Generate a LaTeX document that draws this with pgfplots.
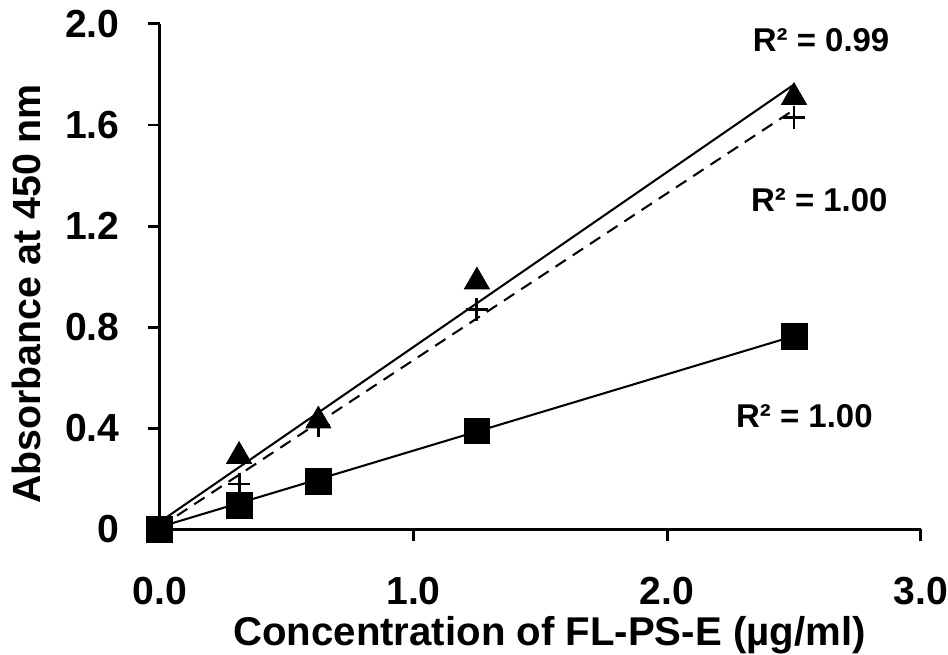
\documentclass[border=0pt]{standalone}
\usepackage{fontspec}
\setmainfont{Liberation Sans}
\usepackage{pgfplots}
\pgfplotsset{compat=1.18}
\usetikzlibrary{calc}

% one table for each series
\pgfplotstableread{
x      y
0      0.00
0.3125 0.29
0.625  0.43
1.25   0.98
2.5    1.71
}\triangles
\pgfplotstableread{
x      y
0      0.00
0.3125 0.18
0.625  0.41
1.25   0.87
2.5    1.63
}\pluses
\pgfplotstableread{
x      y
0      0.00
0.3125 0.095
0.625  0.19
1.25   0.39
2.5    0.765
}\squares

\begin{document}
\begin{tikzpicture}
\begin{axis}[
    scale only axis,
    width=369.5pt, height=245.5pt,
    xmin=0, xmax=3, ymin=0, ymax=2,
    axis x line*=bottom, axis y line*=left,
    axis line style={line width=1.4pt},
    xtick={0,1,2,3}, xticklabels={0.0,1.0,2.0,3.0},
    ytick={0,0.4,0.8,1.2,1.6,2.0}, yticklabels={0,0.4,0.8,1.2,1.6,2.0},
    tick align=outside, major tick length=5.8pt,
    tick style={line width=1.4pt, black},
    ticklabel style={font=\fontsize{19}{22}\selectfont\bfseries, inner sep=0pt},
    /pgf/number format/assume math mode=true,
    xticklabel style={anchor=north, yshift=-17pt},
    yticklabel style={anchor=east, xshift=-13.6pt},
    xlabel={Concentration of FL-PS-E (µg/ml)},
    ylabel={Absorbance at 450 nm},
    xlabel style={font=\fontsize{19.5}{22}\selectfont\bfseries, inner sep=0pt,
        at={($(rel axis cs:0.512,0)+(0,-56.5pt)$)}, anchor=base},
    ylabel style={font=\fontsize{19.1}{22}\selectfont\bfseries, inner sep=0pt,
        at={($(rel axis cs:0,0.466)+(-58pt,0)$)}, anchor=base},
    clip=false,
]
% fitted lines
\addplot[black, line width=1pt] coordinates {(0,0.03) (2.5,1.76)};
\addplot[black, line width=1pt, dash pattern=on 6pt off 4pt] coordinates {(0,0.01) (2.5,1.66)};
\addplot[black, line width=1pt] coordinates {(0,0.01) (2.5,0.765)};
% measured points
\addplot[only marks, mark=triangle*, mark size=7pt, black] table {\triangles};
\addplot[only marks, mark=+, mark size=5.5pt, mark options={line width=1.4pt}, black] table {\pluses};
\addplot[only marks, mark=square*, mark size=6.3pt, black] table {\squares};
\node[font=\fontsize{16}{18}\selectfont\bfseries] at (axis cs:2.607,1.937) {R² = 0.99};
\node[font=\fontsize{16}{18}\selectfont\bfseries] at (axis cs:2.6,1.304) {R² = 1.00};
\node[font=\fontsize{16}{18}\selectfont\bfseries] at (axis cs:2.541,0.447) {R² = 1.00};
% margins of the original figure
\path (rel axis cs:0,0) ++(-77.6pt,0);
\path (rel axis cs:0,1) ++(0,11.6pt);
\end{axis}
\end{tikzpicture}
\end{document}
